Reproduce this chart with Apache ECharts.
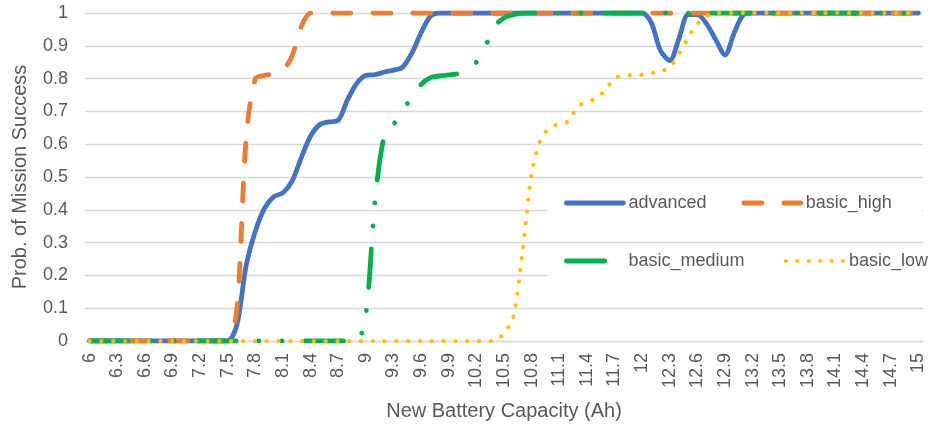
<!DOCTYPE html>
<html>
<head>
<meta charset="utf-8">
<script src="https://cdn.jsdelivr.net/npm/echarts@6/dist/echarts.min.js"></script>
<style>
html,body{margin:0;padding:0;background:#fff;}
#chart{width:933px;height:428px;}
</style>
</head>
<body>
<div id="chart"></div>
<script>
const categories = [
"6","6.1","6.2","6.3","6.4","6.5","6.6","6.7","6.8","6.9",
"7","7.1","7.2","7.3","7.4","7.5","7.6","7.7","7.8","7.9",
"8","8.1","8.2","8.3","8.4","8.5","8.6","8.7","8.8","8.9",
"9","9.1","9.2","9.3","9.4","9.5","9.6","9.7","9.8","9.9",
"10","10.1","10.2","10.3","10.4","10.5","10.6","10.7","10.8","10.9",
"11","11.1","11.2","11.3","11.4","11.5","11.6","11.7","11.8","11.9",
"12","12.1","12.2","12.3","12.4","12.5","12.6","12.7","12.8","12.9",
"13","13.1","13.2","13.3","13.4","13.5","13.6","13.7","13.8","13.9",
"14","14.1","14.2","14.3","14.4","14.5","14.6","14.7","14.8","14.9",
"15"];

const advanced = [
0,0,0,0,0,0,0,0,0,0,
0,0,0,0,0,0,0.05,0.23,0.335,0.405,
0.44,0.452,0.488,0.56,0.625,0.66,0.668,0.673,0.735,0.785,
0.81,0.812,0.82,0.826,0.835,0.878,0.94,0.99,1,1,
1,1,1,1,1,1,1,1,1,1,
1,1,1,1,1,1,1,1,1,1,
1,0.97,0.885,0.855,0.922,0.995,0.995,0.967,0.918,0.872,
0.94,0.995,1,1,1,1,1,1,1,1,
1,1,1,1,1,1,1,1,1,1,
1];

const basicHigh = [
0,0,0,0,0,0,0,0,0,0,
0,0,0,0,0,0,0.1,0.62,0.8,0.81,
0.815,0.825,0.87,0.96,1,1,1,1,1,1,
1,1,1,1,1,1,1,1,1,1,
1,1,1,1,1,1,1,1,1,1,
1,1,1,1,1,1,1,1,1,1,
1,1,1,1,1,1,1,1,1,1,
1,1,1,1,1,1,1,1,1,1,
1,1,1,1,1,1,1,1,1,1,
1];

const basicMedium = [
0,0,0,0,0,0,0,0,0,0,
0,0,0,0,0,0,0,0,0,0,
0,0,0,0,0,0,0,0,0,0,
0.08,0.43,0.625,0.66,0.705,0.742,0.782,0.803,0.808,0.811,
0.815,0.83,0.85,0.9,0.96,0.985,0.995,1,1,1,
1,1,1,1,1,1,1,1,1,1,
1,1,1,1,1,1,1,1,1,1,
1,1,1,1,1,1,1,1,1,1,
1,1,1,1,1,1,1,1,1,1,
1];

const basicLow = [
0,0,0,0,0,0,0,0,0,0,
0,0,0,0,0,0,0,0,0,0,
0,0,0,0,0,0,0,0,0,0,
0,0,0,0,0,0,0,0,0,0,
0,0,0,0,0,0.025,0.07,0.27,0.51,0.615,
0.65,0.662,0.67,0.715,0.727,0.74,0.765,0.8,0.81,0.81,
0.812,0.817,0.822,0.835,0.875,0.925,0.967,0.99,1,1,
1,1,1,1,1,1,1,1,1,1,
1,1,1,1,1,1,1,1,1,1,
1];

const seriesNames = ["advanced","basic_high","basic_medium","basic_low"];

const FONT = "Liberation Sans";
const TXT = "#595959";
const GRID = "#D9D9D9";

const styles = [
  {color:'#4472C4', width:4.8, type:'solid', legendType:'solid'},
  {color:'#ED7D31', width:4.8, type:[18,22], legendType:[18,22]},
  {color:'#00B050', width:4.8, type:[38.5,23,0.1,23,0.1,23], legendType:[38.5,23,0.1,23,0.1,23]},
  {color:'#FFC000', width:4.2, type:[0.1,11.7], legendType:[0.1,11.3]}
];

const chart = echarts.init(document.getElementById('chart'), null, {renderer:'canvas'});

function legendBox(idx, left, top, padding, itemWidth){
  const s = styles[idx];
  return {
    data:[seriesNames[idx]], left:left, top:top, orient:'horizontal',
    itemWidth:itemWidth, itemHeight:14, itemGap:0,
    padding:padding, backgroundColor:'#ffffff',
    textStyle:{fontFamily:FONT, fontSize:18, color:TXT},
    itemStyle:{opacity:0, borderWidth:0},
    lineStyle:{color:s.color, width:s.width, type:s.legendType, cap:'round', join:'round', opacity:1},
    selectedMode:false
  };
}

function lineSeries(idx, data, z){
  const s = styles[idx];
  return {
    name:seriesNames[idx], type:'line', data:data, symbol:'none', showSymbol:false,
    smooth:0.3, color:s.color, z:z,
    lineStyle:{color:s.color, width:s.width, type:s.type, cap:'round', join:'round'}
  };
}

const option = {
  backgroundColor:'#ffffff',
  animation:false,
  grid:{left:85, right:10, top:13, bottom:87, containLabel:false},
  legend:[
    legendBox(0, 548, 188, [6,30,16,16], 57),
    legendBox(1, 728, 188, [6,30,16,13.4], 57),
    legendBox(2, 548, 248, [4,30,22,16], 57),
    legendBox(3, 771.8, 248, [4,5,22,12], 58)
  ],
  xAxis:{
    type:'category', data:categories, boundaryGap:true,
    name:'New Battery Capacity (Ah)', nameLocation:'middle', nameGap:60,
    nameTextStyle:{fontFamily:FONT, fontSize:20, color:TXT},
    axisLine:{show:true, lineStyle:{color:GRID, width:1.3}},
    axisTick:{show:false},
    axisLabel:{interval:2, rotate:90, margin:12, fontFamily:FONT, fontSize:18, color:TXT},
    splitLine:{show:false}
  },
  yAxis:{
    type:'value', min:0, max:1, interval:0.1,
    name:'Prob. of Mission Success', nameLocation:'middle', nameGap:55,
    nameTextStyle:{fontFamily:FONT, fontSize:20, color:TXT},
    axisLine:{show:false}, axisTick:{show:false},
    axisLabel:{margin:17, fontFamily:FONT, fontSize:18, color:TXT},
    splitLine:{show:true, lineStyle:{color:GRID, width:1.3}}
  },
  series:[
    lineSeries(0, advanced, 2),
    lineSeries(1, basicHigh, 3),
    lineSeries(2, basicMedium, 4),
    lineSeries(3, basicLow, 5)
  ]
};
chart.setOption(option);
</script>
</body>
</html>
